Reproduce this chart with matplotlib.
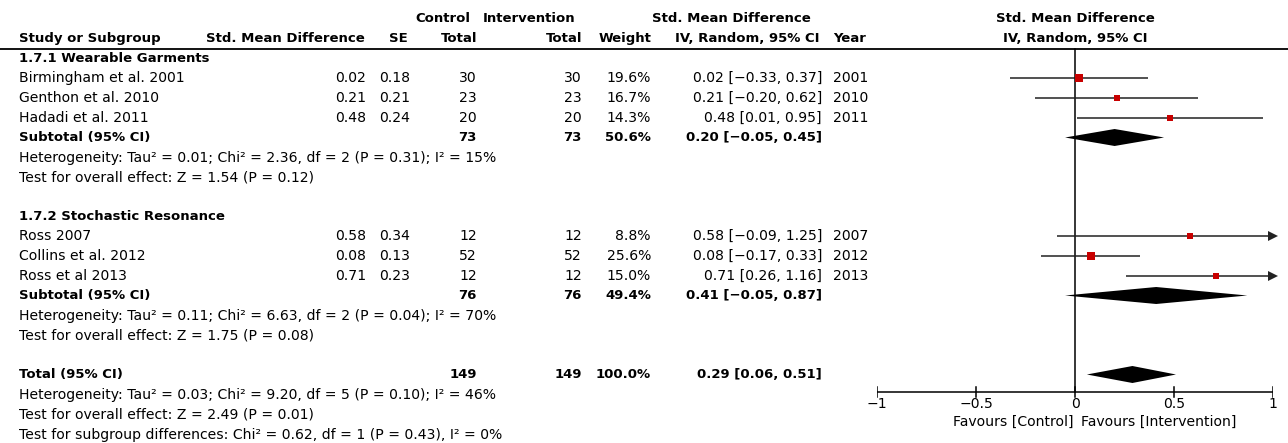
import numpy as np
import matplotlib
matplotlib.use("Agg")
import matplotlib.pyplot as plt
from matplotlib.patches import Polygon

# ---- data ----
studies = ["Birmingham et al. 2001", "Genthon et al. 2010", "Hadadi et al. 2011",
           "Ross 2007", "Collins et al. 2012", "Ross et al 2013"]
smd = [0.02, 0.21, 0.48, 0.58, 0.08, 0.71]
se = [0.18, 0.21, 0.24, 0.34, 0.13, 0.23]
ctrl_n = [30, 23, 20, 12, 52, 12]
int_n = [30, 23, 20, 12, 52, 12]
weight = [19.6, 16.7, 14.3, 8.8, 25.6, 15.0]
ci_lo = [-0.33, -0.20, 0.01, -0.09, -0.17, 0.26]
ci_hi = [0.37, 0.62, 0.95, 1.25, 0.33, 1.16]
years = [2001, 2010, 2011, 2007, 2012, 2013]

sub_names = ["1.7.1 Wearable Garments", "1.7.2 Stochastic Resonance"]
sub_members = [[0, 1, 2], [3, 4, 5]]
sub_ctrl = [73, 76]
sub_int = [73, 76]
sub_weight = [50.6, 49.4]
sub_est = [0.20, 0.41]
sub_lo = [-0.05, -0.05]
sub_hi = [0.45, 0.87]
sub_het = ["Heterogeneity: Tau² = 0.01; Chi² = 2.36, df = 2 (P = 0.31); I² = 15%",
           "Heterogeneity: Tau² = 0.11; Chi² = 6.63, df = 2 (P = 0.04); I² = 70%"]
sub_test = ["Test for overall effect: Z = 1.54 (P = 0.12)",
            "Test for overall effect: Z = 1.75 (P = 0.08)"]

tot_ctrl, tot_int, tot_weight = 149, 149, 100.0
tot_est, tot_lo, tot_hi = 0.29, 0.06, 0.51
tot_notes = ["Heterogeneity: Tau² = 0.03; Chi² = 9.20, df = 5 (P = 0.10); I² = 46%",
             "Test for overall effect: Z = 2.49 (P = 0.01)",
             "Test for subgroup differences: Chi² = 0.62, df = 1 (P = 0.43), I² = 0%"]

xticks = [-1, -0.5, 0, 0.5, 1]
xtick_labels = ["\u22121", "\u22120.5", "0", "0.5", "1"]

# ---- layout ----
W, H = 1288, 443
PITCH, TOP = 19.75, 19.0          # px per text line, y of first line
FS = 10.1                         # regular text
FSB = 9.5                         # bold text
RED = "#c80000"

fig = plt.figure(figsize=(W / 100, H / 100), dpi=100)
ylim = ((H - TOP) / PITCH, -TOP / PITCH)

ax = fig.add_axes([0, 0, 1, 1])
ax.set_xlim(0, W)
ax.set_ylim(*ylim)
ax.axis("off")

axf = fig.add_axes([877 / W, 0, 396 / W, 1])
axf.set_xlim(-1, 1)
axf.set_ylim(*ylim)
axf.axis("off")

# column x positions (px) : right edges unless noted
X_STUDY = 19
X_SMD = 366
X_SE = 410
X_CTRL = 477
X_INT = 582
X_W = 651
X_CI = 822
X_YEAR = 833


def txt(x, y, s, ha="left", bold=False):
    ax.text(x, y, s, ha=ha, va="center", fontsize=FSB if bold else FS,
            fontweight="bold" if bold else "normal")


def fmt(v):
    return f"{v:.2f}".replace("-", "\u2212")


def ci_str(e, lo, hi):
    return f"{fmt(e)} [{fmt(lo)}, {fmt(hi)}]"


# headers
txt(470, 0, "Control", ha="right", bold=True)
txt(483, 0, "Intervention", ha="left", bold=True)
txt(731, 0, "Std. Mean Difference", ha="center", bold=True)
txt(X_STUDY, 1, "Study or Subgroup", bold=True)
txt(365, 1, "Std. Mean Difference", ha="right", bold=True)
txt(408, 1, "SE", ha="right", bold=True)
txt(X_CTRL, 1, "Total", ha="right", bold=True)
txt(X_INT, 1, "Total", ha="right", bold=True)
txt(X_W, 1, "Weight", ha="right", bold=True)
txt(820, 1, "IV, Random, 95% CI", ha="right", bold=True)
txt(X_YEAR, 1, "Year", bold=True)
axf.text(0, 0, "Std. Mean Difference", ha="center", va="center", fontsize=FSB, fontweight="bold")
axf.text(0, 1, "IV, Random, 95% CI", ha="center", va="center", fontsize=FSB, fontweight="bold")
ax.plot([0, W], [1.5, 1.5], color="black", lw=1.3)


def diamond(y, est, lo, hi):
    h = 0.43
    axf.add_patch(Polygon([[lo, y], [est, y - h], [hi, y], [est, y + h]],
                          closed=True, color="black", lw=0))


row = 2
for g, name in enumerate(sub_names):
    txt(X_STUDY, row, name, bold=True)
    row += 1
    for i in sub_members[g]:
        txt(X_STUDY, row, studies[i])
        txt(X_SMD, row, f"{smd[i]:.2f}", ha="right")
        txt(X_SE, row, f"{se[i]:.2f}", ha="right")
        txt(X_CTRL, row, str(ctrl_n[i]), ha="right")
        txt(X_INT, row, str(int_n[i]), ha="right")
        txt(X_W, row, f"{weight[i]:.1f}%", ha="right")
        txt(X_CI, row, ci_str(smd[i], ci_lo[i], ci_hi[i]), ha="right")
        txt(X_YEAR, row, str(years[i]))
        lo, hi = max(ci_lo[i], -1), min(ci_hi[i], 1)
        axf.plot([lo, hi], [row, row], color="#222222", lw=1.1, zorder=2,
                 solid_capstyle="butt")
        if ci_hi[i] > 1:
            axf.plot([1], [row], marker=">", color="#222222", ms=6.5, clip_on=False,
                     markeredgewidth=0)
        side = 1.7 * np.sqrt(weight[i])
        axf.plot([smd[i]], [row], marker="s", ms=side * 0.72, color=RED,
                 markeredgewidth=0, zorder=3)
        row += 1
    txt(X_STUDY, row, "Subtotal (95% CI)", bold=True)
    txt(X_CTRL, row, str(sub_ctrl[g]), ha="right", bold=True)
    txt(X_INT, row, str(sub_int[g]), ha="right", bold=True)
    txt(X_W, row, f"{sub_weight[g]:.1f}%", ha="right", bold=True)
    txt(X_CI, row, ci_str(sub_est[g], sub_lo[g], sub_hi[g]), ha="right", bold=True)
    diamond(row, sub_est[g], sub_lo[g], sub_hi[g])
    row += 1
    txt(X_STUDY, row + 0.05, sub_het[g])
    row += 1
    txt(X_STUDY, row + 0.05, sub_test[g])
    row += 2

txt(X_STUDY, row, "Total (95% CI)", bold=True)
txt(X_CTRL, row, str(tot_ctrl), ha="right", bold=True)
txt(X_INT, row, str(tot_int), ha="right", bold=True)
txt(X_W, row, f"{tot_weight:.1f}%", ha="right", bold=True)
txt(X_CI, row, ci_str(tot_est, tot_lo, tot_hi), ha="right", bold=True)
diamond(row, tot_est, tot_lo, tot_hi)
for k, note in enumerate(tot_notes):
    txt(X_STUDY, row + 1 + k + 0.05, note)

# axis of the forest plot
y_axis = (392 - TOP) / PITCH
axf.plot([0, 0], [1.5, y_axis], color="black", lw=1.1, zorder=1)
axf.plot([-1, 1], [y_axis, y_axis], color="black", lw=1.1)
for t, lab in zip(xticks, xtick_labels):
    axf.plot([t, t], [y_axis - 0.25, y_axis + 0.25], color="black", lw=1.1)
    axf.text(t, y_axis + 0.6, lab, ha="center", va="center", fontsize=FS)
axf.text(-0.01, y_axis + 1.5, "Favours [Control]", ha="right", va="center", fontsize=FS)
axf.text(0.03, y_axis + 1.5, "Favours [Intervention]", ha="left", va="center", fontsize=FS)

fig.savefig("out.png", dpi=100)
